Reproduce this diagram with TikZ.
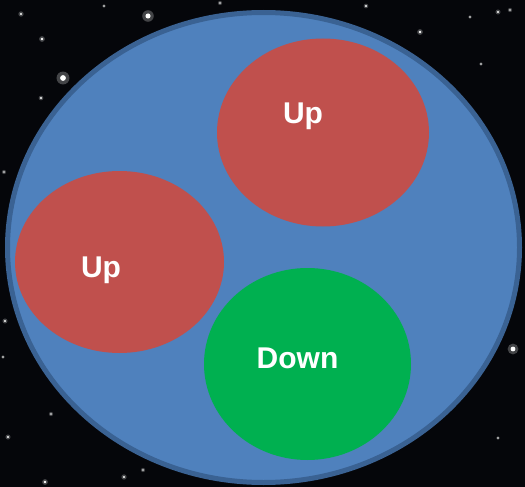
\documentclass[tikz,border=0pt]{standalone}
\usepackage{fontspec}
\usepackage{tikz}
\usetikzlibrary{shapes.geometric}
\newfontfamily\lblfont{Liberation Sans}
\definecolor{space}{HTML}{05060A}
\definecolor{cellblue}{HTML}{4F81BD}
\definecolor{cellrim}{HTML}{3A6293}
\definecolor{upred}{HTML}{C0504D}
\definecolor{downgreen}{HTML}{00B050}

\tikzset{
  blob/.style={ellipse,inner sep=0pt,draw=none},
  tag/.style={text=white,anchor=base,inner sep=0pt,font=\lblfont\bfseries\fontsize{30}{36}\selectfont}
}

\begin{document}
\begin{tikzpicture}[x=1pt,y=-1pt]
\fill[space] (0,0) rectangle (525,487);
\useasboundingbox (0,0) rectangle (525,487);
% stars in the sky
\foreach \sx/\sy/\sr in {148/16/3.2,63/78/3.6,42/39/1.6,21/14/1.5,41/98/1.3,420/32/1.6,366/6/1.3,
  220/3/1.2,513/349/3.0,5/321/1.4,4/172/1.2,481/64/1.1,498/12/1.4,510/10/1.2,470/17/1.1,
  45/482/1.6,8/437/1.4,51/414/1.2,124/477/1.5,143/470/1.2,498/438/1.1,3/357/1.1,104/6/1.0}{
  \fill[white,opacity=0.25] (\sx,\sy) circle (\sr*1.8);
  \fill[white] (\sx,\sy) circle (\sr*0.8);
}
% the cell and its parts
\node[blob,fill=cellblue,draw=cellrim,line width=5pt,minimum width=512pt,minimum height=470pt] (cell) at (263.5,247.5) {};
\node[blob,fill=upred,minimum width=212pt,minimum height=188pt] (up1) at (323,132.5) {};
\node[blob,fill=upred,minimum width=209pt,minimum height=182pt] (up2) at (119.5,262) {};
\node[blob,fill=downgreen,minimum width=207pt,minimum height=192pt] (down) at (307.5,364) {};
\node[tag] (up1txt) at (303,123) {Up};
\node[tag] (up2txt) at (101,277) {Up};
\node[tag] (downtxt) at (297.5,368) {Down};
\end{tikzpicture}
\end{document}
